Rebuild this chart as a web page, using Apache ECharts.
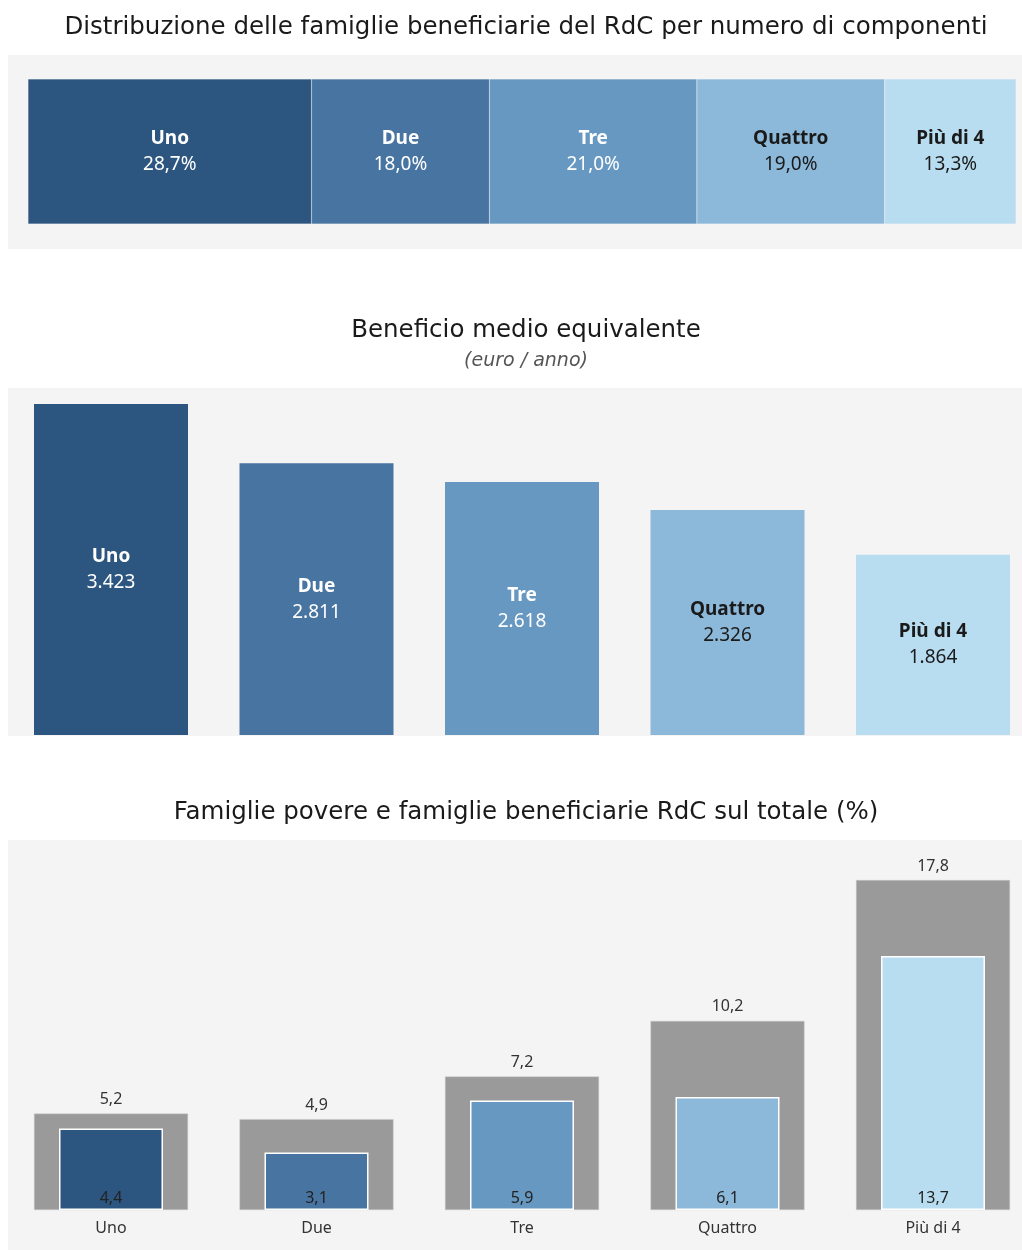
<!DOCTYPE html>
<html>
<head>
<meta charset="utf-8">
<script src="https://cdn.jsdelivr.net/npm/echarts@6/dist/echarts.min.js"></script>
<style>
  html, body { margin: 0; padding: 0; background: #ffffff; overflow: hidden; }
  #chart { width: 1040px; height: 1250px; }
</style>
</head>
<body>
<div id="chart"></div>
<script>
// dati
const categories = ["Uno", "Due", "Tre", "Quattro", "Più di 4"];
const sharePct = [28.7, 18.0, 21.0, 19.0, 13.3];      // distribuzione famiglie RdC (%)
const benefit = [3423, 2811, 2618, 2326, 1864];       // beneficio medio equivalente (euro/anno)
const poorPct = [5.2, 4.9, 7.2, 10.2, 17.8];          // famiglie povere sul totale (%)
const rdcPct = [4.4, 3.1, 5.9, 6.1, 13.7];            // famiglie beneficiarie RdC sul totale (%)

const colors = ["#2c5680", "#4874a2", "#6798c1", "#8cb8da", "#b8ddf0"];
const labelColors = ["#ffffff", "#ffffff", "#ffffff", "#1a1a1a", "#1a1a1a"];
const FONT = "Noto Sans";
const TITLE_FONT = "DejaVu Sans";

function fmtDec(v) { return v.toFixed(1).replace(".", ","); }
function fmtThousands(v) { return String(v).replace(/\B(?=(\d{3})+(?!\d))/g, "."); }

function richLabel(color) {
  return {
    name: { fontFamily: FONT, fontWeight: "bold", fontSize: 19, color: color, lineHeight: 26 },
    val: { fontFamily: FONT, fontSize: 19, color: color, lineHeight: 26 }
  };
}

// larghezza un po' piu' ampia della finestra: le griglie 2 e 3 escono a destra
let myChart = echarts.init(document.getElementById("chart"), null, { renderer: "canvas" });

// pannello 1: barra impilata 100%
let stackSeries = categories.map((c, i) => ({
  name: c,
  type: "bar",
  stack: "tot",
  xAxisIndex: 0,
  yAxisIndex: 0,
  barWidth: "100%",
  data: [sharePct[i]],
  itemStyle: { color: colors[i], borderColor: "rgba(255,255,255,0.25)", borderWidth: 0.5 },
  label: {
    show: true,
    position: "inside",
    formatter: "{name|" + c + "}\n{val|" + fmtDec(sharePct[i]) + "%}",
    rich: richLabel(labelColors[i])
  },
  silent: true
}));

myChart.setOption({
  animation: false,
  backgroundColor: "#ffffff",
  textStyle: { fontFamily: FONT },
  title: [
    {
      text: "Distribuzione delle famiglie beneficiarie del RdC per numero di componenti",
      left: 521, textAlign: "center", top: 10,
      textStyle: { fontFamily: TITLE_FONT, fontSize: 24.5, fontWeight: "normal", color: "#1a1a1a" }
    },
    {
      text: "Beneficio medio equivalente",
      subtext: "(euro / anno)",
      left: 521, textAlign: "center", top: 313, itemGap: 9,
      textStyle: { fontFamily: TITLE_FONT, fontSize: 24.5, fontWeight: "normal", color: "#1a1a1a" },
      subtextStyle: { fontFamily: TITLE_FONT, fontSize: 19, fontStyle: "italic", color: "#555555" }
    },
    {
      text: "Famiglie povere e famiglie beneficiarie RdC sul totale (%)",
      left: 521, textAlign: "center", top: 795,
      textStyle: { fontFamily: TITLE_FONT, fontSize: 24.5, fontWeight: "normal", color: "#1a1a1a" }
    }
  ],
  graphic: [
    { type: "rect", z: -10, silent: true, shape: { x: 8, y: 55, width: 1014, height: 194 }, style: { fill: "#f4f4f4" } },
    { type: "rect", z: -10, silent: true, shape: { x: 8, y: 388, width: 1014, height: 348 }, style: { fill: "#f4f4f4" } },
    { type: "rect", z: -10, silent: true, shape: { x: 8, y: 840, width: 1014, height: 410 }, style: { fill: "#f4f4f4" } }
  ],
  grid: [
    { left: 28, top: 79, width: 988, height: 145 },
    { left: 8.25, top: 396.6, width: 1027.5, height: 338.4 },
    { left: 8.25, top: 876.3, width: 1027.5, height: 333.7 }
  ],
  xAxis: [
    { gridIndex: 0, type: "value", min: 0, max: 100, show: false },
    { gridIndex: 1, type: "category", data: categories, show: false },
    {
      gridIndex: 2, type: "category", data: categories,
      axisLine: { show: false }, axisTick: { show: false },
      axisLabel: { fontFamily: FONT, fontSize: 16, color: "#333333", margin: 10 }
    },
    { gridIndex: 2, type: "category", data: categories, show: false }
  ],
  yAxis: [
    { gridIndex: 0, type: "category", data: ["totale"], show: false },
    { gridIndex: 1, type: "value", min: 0, max: 3500, show: false },
    { gridIndex: 2, type: "value", min: 0, max: 18, show: false }
  ],
  series: stackSeries.concat([
    {
      name: "Beneficio medio equivalente",
      type: "bar",
      xAxisIndex: 1,
      yAxisIndex: 1,
      barWidth: 154,
      silent: true,
      data: benefit.map((v, i) => ({
        value: v,
        itemStyle: { color: colors[i] },
        label: {
          show: true,
          position: "inside",
          formatter: "{name|" + categories[i] + "}\n{val|" + fmtThousands(v) + "}",
          rich: richLabel(labelColors[i])
        }
      }))
    },
    {
      name: "Famiglie povere",
      type: "bar",
      xAxisIndex: 2,
      yAxisIndex: 2,
      barWidth: 154,
      silent: true,
      z: 2,
      itemStyle: { color: "#9a9a9a", borderColor: "#c8c8c8", borderWidth: 0.5 },
      label: {
        show: true,
        position: "top",
        distance: 6,
        formatter: p => fmtDec(p.value),
        fontFamily: FONT, fontSize: 16, color: "#333333"
      },
      data: poorPct
    },
    {
      name: "Famiglie beneficiarie RdC",
      type: "bar",
      xAxisIndex: 3,
      yAxisIndex: 2,
      barWidth: 104,
      silent: true,
      z: 3,
      label: {
        show: true,
        position: "insideBottom",
        distance: 4,
        formatter: p => fmtDec(p.value),
        fontFamily: FONT, fontSize: 16, color: "#222222"
      },
      data: rdcPct.map((v, i) => ({
        value: v,
        itemStyle: { color: colors[i], borderColor: "#ffffff", borderWidth: 1.5 }
      }))
    }
  ])
});
</script>
</body>
</html>
